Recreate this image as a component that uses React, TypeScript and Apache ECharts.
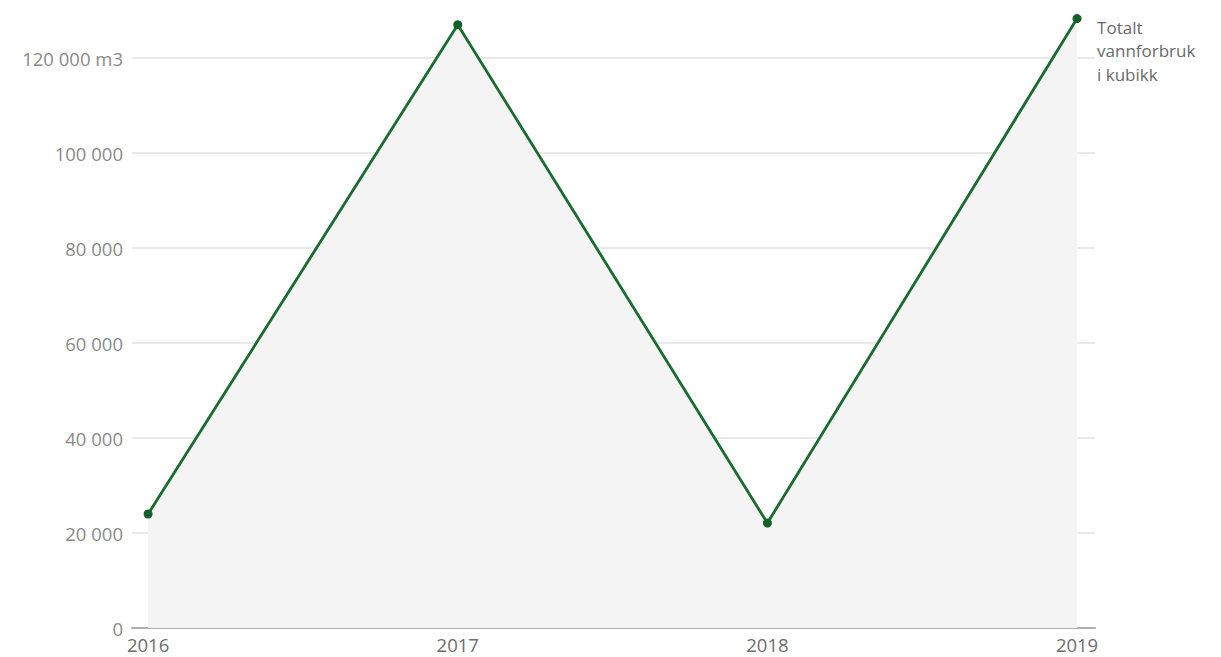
import React, { useEffect, useRef } from "react";
import * as echarts from "echarts";

const years = [2016, 2017, 2018, 2019];
const waterUse = [24000, 127000, 22100, 128300];
const yTicks = [0, 20000, 40000, 60000, 80000, 100000, 120000];
const seriesName = "Totalt\nvannforbruk\ni kubikk";

const fmt = (v: number) => {
  const s = String(Math.round(v));
  return s.replace(/\B(?=(\d{3})+(?!\d))/g, " ");
};

export default function App() {
  const ref = useRef<HTMLDivElement>(null);
  useEffect(() => {
    if (!ref.current) return;
    const chart = echarts.init(ref.current, null, { renderer: "svg" });
    const font = "'Open Sans', 'Noto Sans', sans-serif";
    chart.setOption({
      animation: false,
      backgroundColor: "#ffffff",
      textStyle: { fontFamily: font },
      grid: { left: 132, right: 126, top: 58, bottom: 29, containLabel: false },
      xAxis: {
        type: "value",
        min: 2015.948,
        max: 2019.058,
        axisLine: { show: true, lineStyle: { color: "#b0b0b0", width: 2 } },
        axisTick: { show: false },
        splitLine: { show: false },
        axisLabel: {
          customValues: years,
          color: "#6e6e6e",
          fontSize: 18.5,
          fontFamily: font,
          margin: 7,
          formatter: (v: number) => String(Math.round(v)),
        },
      },
      yAxis: {
        type: "value",
        min: 0,
        max: yTicks[yTicks.length - 1],
        interval: 20000,
        axisLine: { show: false },
        axisTick: { show: false },
        splitLine: { lineStyle: { color: "#e2e2e2", width: 1.5 } },
        axisLabel: {
          color: "#8a8a8a",
          fontSize: 18.5,
          fontFamily: font,
          margin: 9,
          formatter: (v: number) => (v === 120000 ? fmt(v) + " m3" : fmt(v)),
        },
      },
      series: [
        {
          name: seriesName,
          type: "line",
          clip: false,
          data: years.map((y, i) => [y, waterUse[i]]),
          symbol: "circle",
          symbolSize: 9,
          itemStyle: { color: "#13602a" },
          lineStyle: { color: "#1a6b30", width: 2.8 },
          areaStyle: { color: "#f4f4f4", opacity: 1 },
          endLabel: {
            show: true,
            formatter: seriesName,
            color: "#6a6a6a",
            fontSize: 17,
            fontFamily: font,
            lineHeight: 23.5,
            align: "left",
            verticalAlign: "top",
            offset: [12, -3],
          },
        },
      ],
    });
    return () => chart.dispose();
  }, []);
  return (
    <div
      ref={ref}
      style={{ position: "fixed", left: 0, top: 0, width: 1221, height: 657 }}
    />
  );
}
